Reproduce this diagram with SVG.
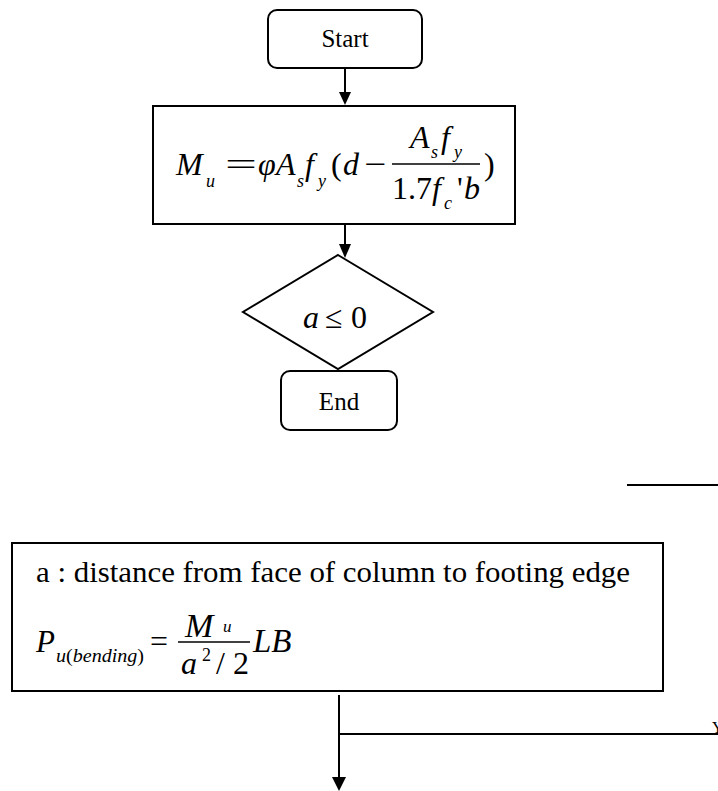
<svg xmlns="http://www.w3.org/2000/svg" width="718" height="791" viewBox="0 0 718 791">
<style>
.box{fill:#fff;stroke:#000;stroke-width:2}
.ln{fill:none;stroke:#000;stroke-width:2}
text{font-family:"Liberation Serif","Times New Roman",serif;fill:#000}
.i{font-style:italic}
</style>
<rect width="718" height="791" fill="#fff"/>
<g id="connectors">
<line class="ln" x1="345" y1="68" x2="345" y2="95"/>
<path d="M339,92 L351,92 L345,105 Z"/>
<line class="ln" x1="345" y1="224" x2="345" y2="247"/>
<path d="M339,244 L351,244 L345,258 Z"/>
<line class="ln" x1="627" y1="485" x2="718" y2="485"/>
<line class="ln" x1="339" y1="695" x2="339" y2="780"/>
<path d="M332,777 L346,777 L339,791 Z"/>
<line class="ln" x1="339" y1="734" x2="718" y2="734"/>
<text x="712" y="733" font-size="16">Y</text>
</g>
<g id="start">
<rect class="box" x="268" y="10" width="154" height="58" rx="9"/>
<text x="345" y="47" font-size="25" text-anchor="middle">Start</text>
</g>
<g id="formula">
<rect class="box" x="153" y="106" width="362" height="118"/>
<text class="i" x="176" y="175" font-size="32">M</text>
<text class="i" x="206" y="187" font-size="18">u</text>
<text x="225" y="175" font-size="32" textLength="32" lengthAdjust="spacingAndGlyphs">=</text>
<text class="i" x="258" y="175" font-size="32">φ</text>
<text class="i" x="276" y="175" font-size="32">A</text>
<text class="i" x="297" y="187" font-size="18">s</text>
<text class="i" x="305" y="175" font-size="32">f</text>
<text class="i" x="318" y="187" font-size="18">y</text>
<text x="331" y="175" font-size="32">(</text>
<text class="i" x="343" y="175" font-size="32">d</text>
<text x="364" y="175" font-size="32" textLength="22" lengthAdjust="spacingAndGlyphs">−</text>
<line x1="392" y1="164" x2="480" y2="164" stroke="#000" stroke-width="1.5"/>
<text class="i" x="410" y="148" font-size="32">A</text>
<text class="i" x="431" y="158" font-size="18">s</text>
<text class="i" x="441" y="148" font-size="32">f</text>
<text class="i" x="454" y="158" font-size="18">y</text>
<text x="392" y="199" font-size="32">1.7</text>
<text class="i" x="432" y="199" font-size="32">f</text>
<text class="i" x="444" y="209" font-size="18">c</text>
<text x="457" y="199" font-size="32">'</text>
<text class="i" x="464" y="199" font-size="32">b</text>
<text x="484" y="175" font-size="32">)</text>
</g>
<g id="decision">
<polygon class="box" points="338,255 433,312 338,369 243,312"/>
<text class="i" x="303" y="328" font-size="32">a</text>
<text x="325" y="328" font-size="32">≤</text>
<text x="351" y="328" font-size="32">0</text>
</g>
<g id="end">
<rect class="box" x="281" y="371" width="116" height="59" rx="9"/>
<text x="339" y="410" font-size="25" text-anchor="middle">End</text>
</g>
<g id="bending">
<rect class="box" x="12" y="543" width="651" height="148"/>
<text x="36" y="582" font-size="30" textLength="594" lengthAdjust="spacingAndGlyphs">a : distance from face of column to footing edge</text>
<text class="i" x="36" y="652" font-size="31">P</text>
<text x="56" y="662" font-size="19" textLength="88" lengthAdjust="spacingAndGlyphs"><tspan class="i">u</tspan>(<tspan class="i">bending</tspan>)</text>
<text x="150" y="652" font-size="31" textLength="18" lengthAdjust="spacingAndGlyphs">=</text>
<line x1="178" y1="642" x2="250" y2="642" stroke="#000" stroke-width="1.5"/>
<text class="i" x="185" y="637" font-size="34">M</text>
<text class="i" x="223" y="632" font-size="17">u</text>
<text class="i" x="181" y="674" font-size="32">a</text>
<text x="202" y="661" font-size="18">2</text>
<text x="216" y="674" font-size="32">/ 2</text>
<text class="i" x="253" y="652" font-size="33">LB</text>
</g>
</svg>
